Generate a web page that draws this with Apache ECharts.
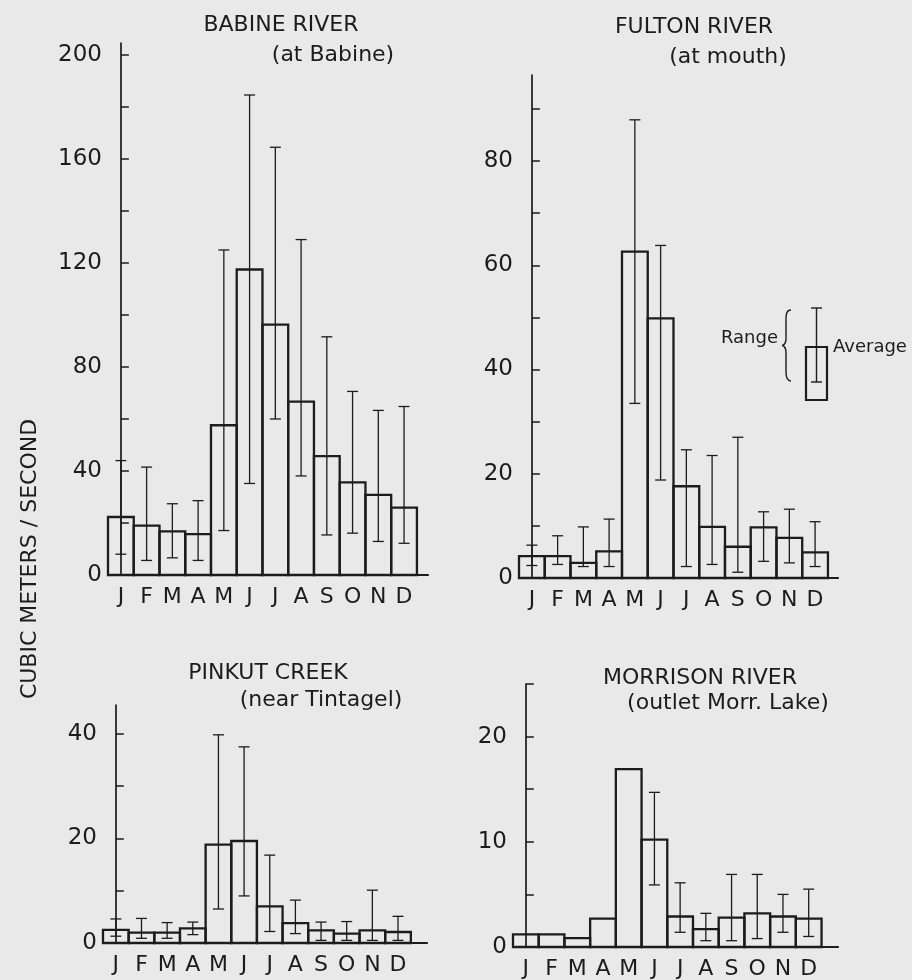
<!DOCTYPE html>
<html>
<head>
<meta charset="utf-8">
<script src="https://cdn.jsdelivr.net/npm/echarts@6/dist/echarts.min.js"></script>
<style>
  html, body { margin: 0; padding: 0; background: #e9e9e9; }
  #chart { width: 912px; height: 980px; }
</style>
</head>
<body>
<div id="chart"></div>
<script>
// ---------------- DATA ----------------
const months = ['J', 'F', 'M', 'A', 'M', 'J', 'J', 'A', 'S', 'O', 'N', 'D'];

const babineAvg  = [22.3, 19, 16.8, 15.7, 57.6, 117.5, 96.3, 66.7, 45.7, 35.6, 30.8, 25.9];
const babineLow  = [8, 5.6, 6.6, 5.6, 17.1, 35.2, 60, 38.1, 15.4, 16.1, 12.9, 12.2];
const babineHigh = [44, 41.5, 27.4, 28.6, 125, 184.6, 164.5, 129, 91.6, 70.6, 63.3, 64.8];

const fultonAvg  = [4.2, 4.2, 2.9, 5.1, 62.6, 49.8, 17.6, 9.8, 6, 9.7, 7.7, 4.9];
const fultonLow  = [2.4, 2.6, 2.2, 2.2, 33.5, 18.8, 2.2, 2.6, 1.1, 3.2, 2.9, 2.2];
const fultonHigh = [6.3, 8.1, 9.8, 11.3, 87.9, 63.8, 24.6, 23.5, 27, 12.7, 13.2, 10.8];

const pinkutAvg  = [2.5, 2, 2, 2.8, 18.8, 19.5, 7, 3.8, 2.4, 1.8, 2.4, 2.1];
const pinkutLow  = [1.3, 0.9, 0.9, 1.6, 6.5, 9, 2.2, 1.8, 0.5, 0.5, 0.5, 0.5];
const pinkutHigh = [4.6, 4.7, 3.9, 4, 39.8, 37.5, 16.8, 8.2, 4, 4.1, 10.1, 5.1];

const morrisonAvg  = [1.2, 1.2, 0.85, 2.7, 16.9, 10.2, 2.9, 1.7, 2.8, 3.2, 2.9, 2.7];
const morrisonLow  = [null, null, null, null, null, 5.9, 1.4, 0.6, 0.6, 0.8, 1.4, 1.0];
const morrisonHigh = [null, null, null, null, null, 14.7, 6.1, 3.2, 6.9, 6.9, 5.0, 5.5];

const babineTicks = [0, 20, 40, 60, 80, 100, 120, 140, 160, 180, 200];
const babineLabels = [0, 40, 80, 120, 160, 200];
const fultonTicks = [0, 10, 20, 30, 40, 50, 60, 70, 80, 90];
const fultonLabels = [0, 20, 40, 60, 80];
const pinkutTicks = [0, 10, 20, 30, 40];
const pinkutLabels = [0, 20, 40];
const morrisonTicks = [0, 5, 10, 15, 20, 25];
const morrisonLabels = [0, 10, 20];

const yTitle = 'CUBIC METERS / SECOND';
// ---------------------------------------

const INK = '#1c1c1c';
const FONT = 'DejaVu Sans';
const monthIdx = months.map((m, i) => i);

const panels = [
  { title: 'BABINE RIVER', sub: '(at Babine)', avg: babineAvg, low: babineLow, high: babineHigh,
    ticks: babineTicks, labels: babineLabels,
    grid: { left: 108, top: 43, width: 320, height: 532 }, xMax: 11.93, yMax: 204.6,
    t1: [281, 25], t2: [333, 55] },
  { title: 'FULTON RIVER', sub: '(at mouth)', avg: fultonAvg, low: fultonLow, high: fultonHigh,
    ticks: fultonTicks, labels: fultonLabels,
    grid: { left: 519, top: 75, width: 319, height: 503 }, xMax: 11.89, yMax: 96.5,
    t1: [694, 27], t2: [728, 57] },
  { title: 'PINKUT CREEK', sub: '(near Tintagel)', avg: pinkutAvg, low: pinkutLow, high: pinkutHigh,
    ticks: pinkutTicks, labels: pinkutLabels,
    grid: { left: 103, top: 705, width: 324, height: 238 }, xMax: 12.13, yMax: 45.5,
    t1: [268, 673], t2: [321, 700] },
  { title: 'MORRISON RIVER', sub: '(outlet Morr. Lake)', avg: morrisonAvg, low: morrisonLow, high: morrisonHigh,
    ticks: morrisonTicks, labels: morrisonLabels,
    grid: { left: 513, top: 684, width: 325, height: 263 }, xMax: 12.14, yMax: 25,
    t1: [700, 678], t2: [728, 703] }
];

function renderBar(params, api) {
  const i = api.value(0), v = api.value(1);
  const p0 = api.coord([i - 0.5, 0]);
  const p1 = api.coord([i + 0.5, v]);
  return {
    type: 'rect',
    shape: { x: p0[0], y: p1[1], width: p1[0] - p0[0], height: p0[1] - p1[1] },
    style: { fill: 'none', stroke: INK, lineWidth: 2.3 }
  };
}

function renderRange(params, api) {
  const i = api.value(0), lo = api.value(1), hi = api.value(2);
  const a = api.coord([i, lo]);
  const b = api.coord([i, hi]);
  const c = 5.5;
  const st = { stroke: INK, lineWidth: 1.3 };
  return {
    type: 'group',
    children: [
      { type: 'line', shape: { x1: a[0], y1: a[1], x2: b[0], y2: b[1] }, style: st },
      { type: 'line', shape: { x1: a[0] - c, y1: a[1], x2: a[0] + c, y2: a[1] }, style: st },
      { type: 'line', shape: { x1: b[0] - c, y1: b[1], x2: b[0] + c, y2: b[1] }, style: st }
    ]
  };
}

const grids = [], xAxes = [], yAxes = [], series = [], graphics = [];

panels.forEach((p, k) => {
  grids.push(p.grid);
  xAxes.push({
    gridIndex: k, type: 'value', min: -0.5, max: p.xMax,
    axisLine: { show: true, onZero: false, lineStyle: { color: INK, width: 2.2 } },
    axisTick: { show: false },
    splitLine: { show: false },
    axisLabel: {
      customValues: monthIdx,
      formatter: v => months[Math.round(v)],
      margin: 11, fontSize: 22, color: INK, fontFamily: FONT
    }
  });
  yAxes.push({
    gridIndex: k, type: 'value', min: 0, max: p.yMax,
    axisLine: { show: true, lineStyle: { color: INK, width: 1.7 } },
    axisTick: { show: true, inside: true, length: 8, customValues: p.ticks, lineStyle: { color: INK, width: 1.5 } },
    splitLine: { show: false },
    axisLabel: { customValues: p.labels, margin: 6, fontSize: 23, color: INK, fontFamily: FONT }
  });
  series.push({
    type: 'custom', xAxisIndex: k, yAxisIndex: k, renderItem: renderBar, z: 2,
    data: p.avg.map((v, i) => [i, v])
  });
  series.push({
    type: 'custom', xAxisIndex: k, yAxisIndex: k, renderItem: renderRange, z: 3,
    data: p.avg.map((v, i) => [i, p.low[i], p.high[i]]).filter(d => d[1] != null && d[2] != null)
  });
  graphics.push({ type: 'text', x: p.t1[0], y: p.t1[1],
    style: { text: p.title, fill: INK, font: '22px "DejaVu Sans"', textAlign: 'center', textVerticalAlign: 'middle' } });
  graphics.push({ type: 'text', x: p.t2[0], y: p.t2[1],
    style: { text: p.sub, fill: INK, font: '22px "DejaVu Sans"', textAlign: 'center', textVerticalAlign: 'middle' } });
});

// y-axis title
graphics.push({ type: 'text', x: 30, y: 559, rotation: Math.PI / 2,
  style: { text: yTitle, fill: INK, font: '22px "DejaVu Sans"', textAlign: 'center', textVerticalAlign: 'middle' } });

// legend (Range / Average) in Fulton panel
const LS = { stroke: INK, lineWidth: 1.4, fill: 'none' };
graphics.push({ type: 'text', x: 778, y: 338,
  style: { text: 'Range', fill: INK, font: '18px "DejaVu Sans"', textAlign: 'right', textVerticalAlign: 'middle' } });
graphics.push({ type: 'text', x: 833, y: 347,
  style: { text: 'Average', fill: INK, font: '18px "DejaVu Sans"', textAlign: 'left', textVerticalAlign: 'middle' } });
graphics.push({ type: 'bezierCurve', shape: { x1: 791, y1: 310, x2: 786, y2: 320, cpx1: 787, cpy1: 310, cpx2: 786, cpy2: 313 }, style: LS });
graphics.push({ type: 'line', shape: { x1: 786, y1: 320, x2: 786, y2: 339 }, style: LS });
graphics.push({ type: 'bezierCurve', shape: { x1: 786, y1: 339, x2: 782, y2: 345.5, cpx1: 786, cpy1: 343, cpx2: 784, cpy2: 345.5 }, style: LS });
graphics.push({ type: 'bezierCurve', shape: { x1: 782, y1: 345.5, x2: 786, y2: 352, cpx1: 784, cpy1: 345.5, cpx2: 786, cpy2: 348 }, style: LS });
graphics.push({ type: 'line', shape: { x1: 786, y1: 352, x2: 786, y2: 372 }, style: LS });
graphics.push({ type: 'bezierCurve', shape: { x1: 786, y1: 372, x2: 791, y2: 381, cpx1: 786, cpy1: 378, cpx2: 787, cpy2: 381 }, style: LS });
graphics.push({ type: 'rect', shape: { x: 806, y: 347, width: 21, height: 53 },
  style: { fill: 'none', stroke: INK, lineWidth: 2.2 } });
graphics.push({ type: 'line', shape: { x1: 816.5, y1: 308, x2: 816.5, y2: 382 }, style: LS });
graphics.push({ type: 'line', shape: { x1: 811, y1: 308, x2: 822, y2: 308 }, style: LS });
graphics.push({ type: 'line', shape: { x1: 811, y1: 382, x2: 822, y2: 382 }, style: LS });

const chart = echarts.init(document.getElementById('chart'), null, { renderer: 'canvas' });
chart.setOption({
  backgroundColor: '#e9e9e9',
  animation: false,
  textStyle: { fontFamily: FONT },
  grid: grids,
  xAxis: xAxes,
  yAxis: yAxes,
  series: series,
  graphic: graphics
});
</script>
</body>
</html>
